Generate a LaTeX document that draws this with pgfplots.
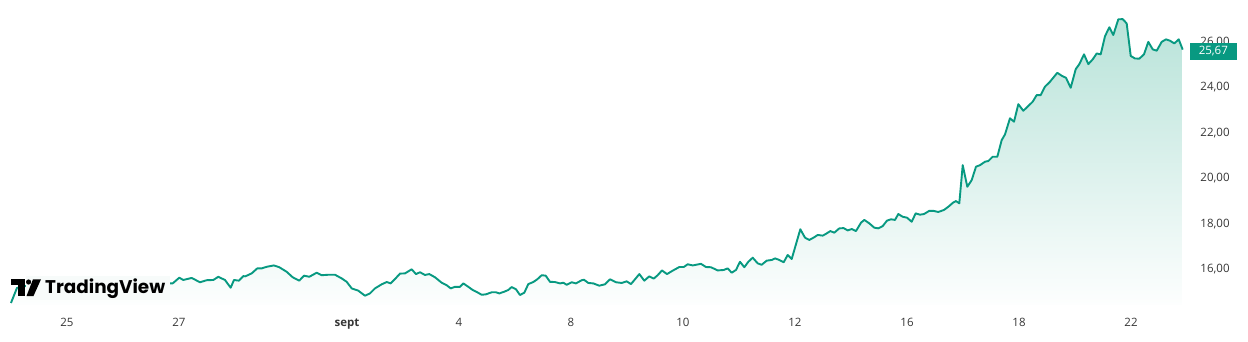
\documentclass[border=0pt]{standalone}
\usepackage{fontspec}
\setmainfont{Open Sans}
\newfontfamily\logofont{Poppins}
\usepackage{graphicx}
\usepackage{pgfplots}
\usepackage{pgfplotstable}
\pgfplotsset{compat=1.18}
\definecolor{tvgreen}{RGB}{8,153,129}
\definecolor{filltop}{RGB}{184,227,217}
\definecolor{fillbot}{RGB}{253,254,254}
\definecolor{labgray}{RGB}{55,55,55}
\definecolor{logobg}{RGB}{247,251,250}

\pgfplotstableread{
d v
-1.000 14.53
-0.893 15.19
-0.339 15.49
0.411 15.45
1.107 15.41
1.888 15.39
2.005 15.64
2.077 15.54
2.227 15.63
2.375 15.44
2.495 15.53
2.613 15.54
2.702 15.68
2.821 15.54
2.923 15.20
2.982 15.54
3.071 15.51
3.148 15.71
3.184 15.70
3.298 15.83
3.398 16.05
3.477 16.05
3.566 16.12
3.696 16.18
3.791 16.10
3.923 15.90
4.030 15.66
4.148 15.51
4.232 15.73
4.327 15.68
4.459 15.86
4.548 15.75
4.666 15.77
4.786 15.77
4.905 15.61
4.995 15.46
5.084 15.17
5.202 15.07
5.321 14.85
5.411 14.95
5.500 15.17
5.620 15.35
5.709 15.45
5.780 15.39
5.857 15.58
5.946 15.82
6.036 15.83
6.155 16.01
6.232 15.80
6.304 15.88
6.393 15.76
6.470 15.80
6.571 15.66
6.691 15.42
6.780 15.31
6.852 15.17
6.929 15.24
7.018 15.24
7.077 15.39
7.166 15.24
7.245 15.10
7.327 15.00
7.405 14.89
7.482 14.91
7.584 15.00
7.661 15.00
7.720 14.95
7.804 15.02
7.880 15.10
7.941 15.23
8.018 15.13
8.089 14.88
8.166 14.98
8.238 15.36
8.327 15.45
8.398 15.57
8.477 15.75
8.548 15.73
8.625 15.46
8.714 15.45
8.804 15.39
8.863 15.42
8.923 15.33
9.013 15.44
9.089 15.39
9.191 15.53
9.232 15.55
9.309 15.41
9.398 15.39
9.505 15.29
9.607 15.35
9.696 15.57
9.804 15.44
9.905 15.41
9.995 15.48
10.071 15.36
10.143 15.57
10.220 15.80
10.309 15.51
10.398 15.70
10.477 15.60
10.548 15.75
10.625 15.96
10.714 15.80
10.816 15.95
10.934 16.11
11.013 16.11
11.084 16.23
11.173 16.18
11.321 16.25
11.411 16.11
11.500 16.10
11.620 15.96
11.727 15.98
11.798 16.05
11.870 15.86
11.946 15.98
12.018 16.34
12.095 16.10
12.166 16.34
12.245 16.52
12.334 16.27
12.405 16.21
12.495 16.39
12.584 16.42
12.643 16.49
12.720 16.42
12.798 16.32
12.870 16.64
12.941 16.46
13.095 17.77
13.179 17.40
13.255 17.30
13.345 17.42
13.405 17.52
13.495 17.49
13.554 17.57
13.630 17.69
13.702 17.62
13.791 17.81
13.870 17.82
13.941 17.72
14.013 17.78
14.089 17.69
14.179 18.06
14.238 18.18
14.327 18.03
14.416 17.84
14.488 17.81
14.566 17.91
14.643 18.15
14.714 18.21
14.786 18.18
14.845 18.44
14.923 18.32
15.000 18.28
15.084 18.10
15.155 18.47
15.232 18.41
15.304 18.44
15.398 18.58
15.470 18.58
15.559 18.53
15.661 18.62
15.738 18.76
15.827 18.95
15.875 19.01
15.934 18.91
15.995 20.59
16.077 19.64
16.155 19.93
16.232 20.52
16.304 20.59
16.393 20.74
16.452 20.77
16.530 20.96
16.613 20.96
16.691 21.69
16.750 21.94
16.839 22.65
16.911 22.50
16.988 23.27
17.077 22.98
17.166 23.19
17.245 23.38
17.316 23.67
17.388 23.67
17.464 24.04
17.554 24.26
17.684 24.65
17.763 24.52
17.839 24.43
17.923 23.99
18.013 24.81
18.077 25.03
18.161 25.46
18.238 25.03
18.316 25.24
18.388 25.50
18.459 25.46
18.536 26.26
18.613 26.65
18.684 26.31
18.773 27.00
18.852 27.01
18.923 26.82
18.995 25.39
19.071 25.28
19.148 25.27
19.232 25.46
19.309 26.01
19.388 25.68
19.459 25.62
19.548 26.01
19.625 26.12
19.696 26.06
19.773 25.94
19.852 26.12
19.923 25.67
}\pricedata

\begin{document}
\begin{tikzpicture}[x=1bp,y=1bp]
\begin{axis}[
  name=ax, at={(0,0)}, anchor=south west,
  width=1190bp, height=305bp, scale only axis,
  xmin=-1.196, xmax=20.054, ymin=14.44, ymax=27.85,
  axis line style={draw=none},
  major tick length=0pt,
  xtick={0,2,5,7,9,11,13,15,17,19},
  xticklabels={25,27,\textbf{sept},4,8,10,12,16,18,22},
  ytick={16,18,20,22,24,26},
  yticklabels={{16,00},{18,00},{20,00},{22,00},{24,00},{26,00}},
  yticklabel pos=right,
  xticklabel style={anchor=base, yshift=-21bp, inner sep=0pt, font=\fontsize{11.5bp}{13bp}\selectfont, text=labgray},
  yticklabel style={anchor=center, xshift=25bp, inner sep=0pt, font=\fontsize{11.5bp}{13bp}\selectfont, text=labgray},
]
\addplot[draw=none, top color=filltop, bottom color=fillbot, forget plot]
  table[x=d,y=v] {\pricedata} |- (axis cs:-1,14.44) -- cycle;
\addplot[tvgreen, line width=1.9bp, line join=round, mark=none]
  table[x=d,y=v] {\pricedata};
\end{axis}
\begin{scope}[shift={(ax.south west)}]
% TradingView watermark (origin = bottom-left corner of the plot area)
\fill[logobg] (25.5,5) rectangle (170,29);
\fill[black] (11,20) rectangle (25,25.7);
\fill[black] (17.7,9) rectangle (25,25.7);
\fill[black] (28.6,23) circle (2.6);
\fill[black] (33,25.7) -- (41,25.7) -- (33.5,9) -- (26.5,9) -- cycle;
\node[anchor=base west, inner sep=0pt] at (45,11.7)
  {\resizebox{120bp}{!}{\fontsize{20bp}{22bp}\logofont\bfseries TradingView}};
% last value label
\node[fill=tvgreen, text=white, minimum width=47bp, minimum height=17bp, inner sep=0pt,
  font=\fontsize{11.5bp}{13bp}\selectfont] at (1213.3,253.5) {25,67};
\end{scope}
\pgfresetboundingbox
\path[use as bounding box] ([yshift=-36bp]ax.south west) rectangle ++(1248,341);
\end{tikzpicture}
\end{document}
